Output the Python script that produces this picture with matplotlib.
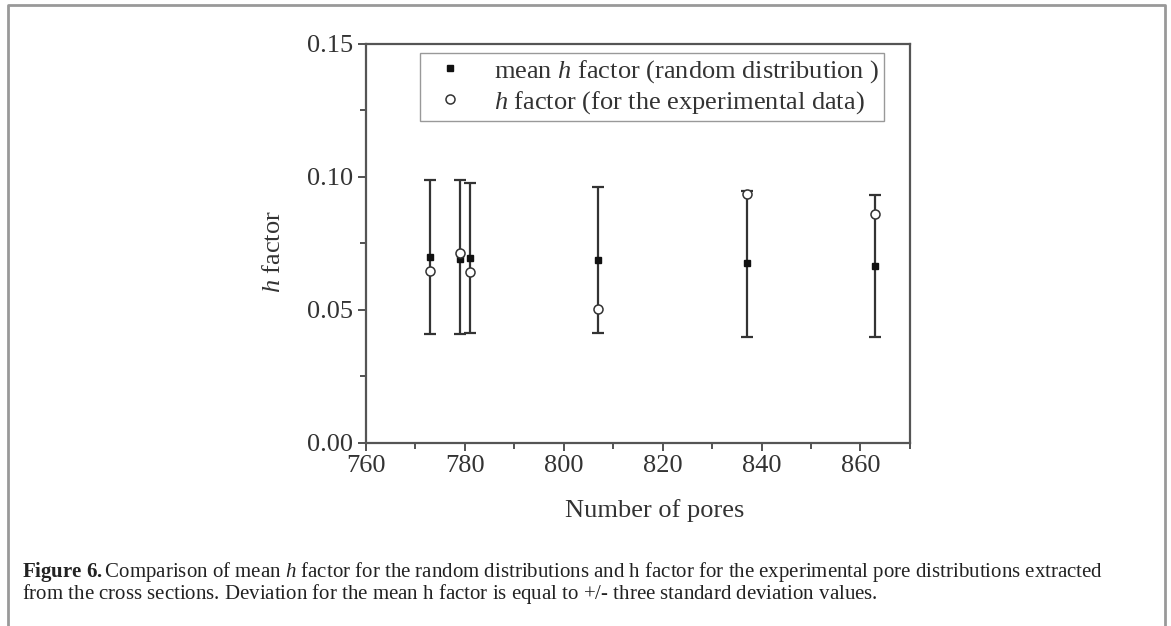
import matplotlib.pyplot as plt
from matplotlib.lines import Line2D
from matplotlib.ticker import MultipleLocator

plt.rcParams['font.family'] = ['Liberation Serif', 'DejaVu Serif']
plt.rcParams['mathtext.fontset'] = 'custom'
plt.rcParams['mathtext.rm'] = 'Liberation Serif'
plt.rcParams['mathtext.it'] = 'Liberation Serif:italic'
plt.rcParams['mathtext.bf'] = 'Liberation Serif:bold'

# data
pores = [773, 779, 781, 807, 837, 863]
mean_h = [0.0699, 0.0693, 0.0694, 0.0687, 0.0675, 0.0664]
err_low = [0.0289, 0.0283, 0.0281, 0.0274, 0.0276, 0.0265]
err_high = [0.0289, 0.0295, 0.0281, 0.0273, 0.0270, 0.0268]
exp_h = [0.0645, 0.0713, 0.0641, 0.0505, 0.0937, 0.0862]

fig = plt.figure(figsize=(11.71, 6.26), dpi=100)
ax = fig.add_axes([0.3125, 0.2925, 0.4645, 0.6375])

ax.errorbar(pores, mean_h, yerr=[err_low, err_high], fmt='s', color='#111111',
            ms=4.8, ecolor='#333333', elinewidth=1.6, capsize=4, capthick=1.6, zorder=2)
ax.plot(pores, exp_h, 'o', mfc='white', mec='#333333', ms=6.5, mew=1.1, zorder=3)

ax.set_xlim(760, 870)
ax.set_ylim(0, 0.15)
ax.xaxis.set_major_locator(MultipleLocator(20))
ax.xaxis.set_minor_locator(MultipleLocator(10))
ax.yaxis.set_major_locator(MultipleLocator(0.05))
ax.yaxis.set_minor_locator(MultipleLocator(0.025))
ax.yaxis.set_major_formatter(plt.FormatStrFormatter('%.2f'))
ax.tick_params(which='both', direction='out', top=False, right=False,
               labelsize=19, color='#444444', labelcolor='#333333', width=1.3)
ax.tick_params(which='major', length=6, pad=3)
ax.tick_params(which='minor', length=4)
for s in ax.spines.values():
    s.set_color('#555555')
    s.set_linewidth(1.6)

ax.set_xlabel('Number of pores', fontsize=19, color='#333333')
ax.xaxis.set_label_coords(0.53, -0.14)
ax.set_ylabel('$h$ factor', fontsize=19, color='#333333')
ax.yaxis.set_label_coords(-0.148, 0.48)

handles = [Line2D([], [], ls='none', marker='s', color='#111111', ms=4.8),
           Line2D([], [], ls='none', marker='o', mfc='white', mec='#333333', ms=6.5, mew=1.1)]
labels = ['mean $h$ factor (random distribution )', '$h$ factor (for the experimental data)']
leg = ax.legend(handles, labels, loc='upper left', bbox_to_anchor=(0.099, 0.977),
                fontsize=19, fancybox=False, framealpha=1, edgecolor='#999999',
                handletextpad=0.7, borderpad=0.2, labelspacing=0.15, handlelength=1.9,
                borderaxespad=0)
for t in leg.get_texts():
    t.set_color('#333333')

# page frame
fig.add_artist(Line2D([0.007, 0.007, 0.995, 0.995], [-0.1, 0.992, 0.992, -0.1],
                      color='#999999', lw=2, transform=fig.transFigure))

fig.text(0.019, 0.078,
         r'$\mathbf{Figure\ 6.}$Comparison of mean $h$ factor for the random distributions and h factor for the experimental pore distributions extracted',
         fontsize=15, color='#222222')
fig.text(0.019, 0.043,
         'from the cross sections. Deviation for the mean h factor is equal to $+/$- three standard deviation values.',
         fontsize=15, color='#222222')

fig.savefig('out.png', dpi=100, facecolor='white')
